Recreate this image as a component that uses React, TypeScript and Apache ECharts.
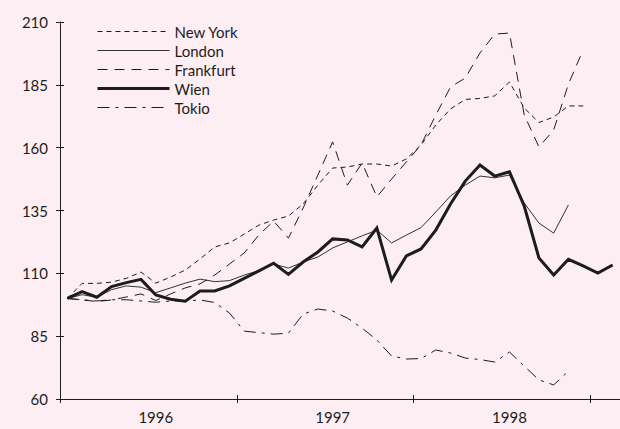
import React, { useEffect, useRef } from "react";
import * as echarts from "echarts";

const months: string[] = [
  "1996-01", "1996-02", "1996-03", "1996-04", "1996-05", "1996-06",
  "1996-07", "1996-08", "1996-09", "1996-10", "1996-11", "1996-12",
  "1997-01", "1997-02", "1997-03", "1997-04", "1997-05", "1997-06",
  "1997-07", "1997-08", "1997-09", "1997-10", "1997-11", "1997-12",
  "1998-01", "1998-02", "1998-03", "1998-04", "1998-05", "1998-06",
  "1998-07", "1998-08", "1998-09", "1998-10", "1998-11", "1998-12",
  "1999-01", "1999-02",
];

const yTicks = { min: 60, max: 210, interval: 25 };

const newYork: number[] = [100, 106, 106, 106.5, 108, 110.5, 106.1, 108.5, 111.3, 115.7, 120.5, 122.1, 125.6, 129.2, 131.2, 132.8, 137.6, 145.1, 151.9, 152.3, 153.5, 153.5, 152.7, 155.5, 161.1, 169, 175.4, 179.2, 179.6, 180.6, 186.1, 175.8, 170, 172.2, 176.6, 176.6];
const london: number[] = [100, 101.5, 100.5, 103.5, 105, 104.5, 102.3, 104.2, 106.1, 107.7, 106.7, 107.1, 109.3, 111.1, 113.7, 112.1, 114.5, 116.5, 120.1, 122.5, 124.9, 127.2, 122.1, 125.2, 128.2, 134.4, 140.8, 145.1, 148.7, 148, 149.1, 138, 130, 126, 137.2];
const frankfurt: number[] = [100, 99.4, 98.8, 99.4, 100.6, 101.8, 99.2, 101.8, 104.2, 105.8, 109.3, 113.7, 118.1, 125.3, 130.8, 124, 136, 149.1, 162.3, 145.1, 153.9, 140.4, 147.5, 154.3, 161.1, 173, 184.1, 187.7, 197.7, 205.2, 205.6, 173, 160.3, 167, 185.3, 198.9];
const wien: number[] = [100, 102.7, 100.5, 104.7, 106.3, 107.6, 101.4, 99.7, 98.9, 103, 103, 105, 108, 111, 114, 109.6, 114.5, 118.5, 123.7, 123.3, 120.5, 128, 107.3, 116.9, 119.7, 127.2, 137.6, 146.7, 153.1, 148.7, 150.4, 136.8, 116.1, 109.3, 115.6, 113, 110.1, 113.3];
const tokio: number[] = [100, 99.5, 99, 99.5, 99.5, 99, 98.5, 99, 99, 99.4, 98.4, 94.2, 87, 86.4, 85.8, 86.2, 93.8, 95.8, 95, 92.2, 88.2, 83.5, 77.1, 75.9, 76.1, 79.5, 78.3, 76.3, 75.7, 74.7, 78.7, 73.1, 67.6, 65.6, 71.1];

const seriesNames = ["New York", "London", "Frankfurt", "Wien", "Tokio"];

const FONT = "Lato, 'Noto Sans', sans-serif";
const INK = "#1c1c1c";

export default function App() {
  const ref = useRef<HTMLDivElement>(null);

  useEffect(() => {
    if (!ref.current) return;
    const chart = echarts.init(ref.current, undefined, { renderer: "svg" });

    const mk = (name: string, data: number[], width: number, type: any) => ({
      name,
      type: "line",
      data,
      xAxisIndex: 0,
      yAxisIndex: 0,
      symbol: "none",
      smooth: false,
      lineStyle: { color: INK, width, type, cap: "butt", join: "miter" },
      itemStyle: { color: INK },
      emphasis: { disabled: true },
    });

    const baseX = {
      type: "category",
      data: months,
      boundaryGap: true,
      gridIndex: 0,
      position: "bottom",
      splitLine: { show: false },
    };
    const baseY = {
      type: "value",
      min: yTicks.min,
      max: yTicks.max,
      interval: yTicks.interval,
      gridIndex: 0,
      position: "left",
      splitLine: { show: false },
    };

    chart.setOption({
      animation: false,
      backgroundColor: "#fdeef3",
      textStyle: { fontFamily: FONT },
      grid: { left: 60, top: 22, bottom: 30, right: -2, containLabel: false },
      legend: {
        orient: "vertical",
        left: 91,
        top: 19,
        itemWidth: 72,
        itemHeight: 14,
        itemGap: 4,
        data: seriesNames,
        textStyle: { fontFamily: FONT, fontSize: 15, color: INK },
        lineStyle: { width: "inherit" },
        itemStyle: { opacity: 0 },
        selectedMode: false,
      },
      xAxis: [
        {
          ...baseX,
          axisLine: { show: true, lineStyle: { color: INK, width: 1 } },
          axisTick: { show: true, length: 4, interval: (i: number) => i % 12 === 0, lineStyle: { color: INK } },
          axisLabel: {
            show: true,
            interval: (i: number) => i % 12 === 6,
            formatter: (v: string) => v.slice(0, 4),
            color: INK,
            fontFamily: FONT,
            fontSize: 15,
            margin: 10,
          },
        },
        {
          ...baseX,
          axisLine: { show: false },
          axisTick: { show: true, inside: true, length: 4, interval: (i: number) => i % 12 === 0, lineStyle: { color: INK } },
          axisLabel: { show: false },
        },
      ],
      yAxis: [
        {
          ...baseY,
          axisLine: { show: true, lineStyle: { color: INK, width: 1 } },
          axisTick: { show: true, length: 4, lineStyle: { color: INK } },
          axisLabel: { color: INK, fontFamily: FONT, fontSize: 15, margin: 12 },
        },
        {
          ...baseY,
          axisLine: { show: false },
          axisTick: { show: true, inside: true, length: 4, lineStyle: { color: INK } },
          axisLabel: { show: false },
        },
      ],
      series: [
        mk("New York", newYork, 1, [5, 4]),
        mk("London", london, 0.9, "solid"),
        mk("Frankfurt", frankfurt, 1, [10, 7]),
        mk("Wien", wien, 3, "solid"),
        mk("Tokio", tokio, 1, [12, 6, 3, 6]),
      ],
    });

    return () => chart.dispose();
  }, []);

  return (
    <div
      ref={ref}
      style={{ position: "fixed", left: 0, top: 0, width: 620, height: 429 }}
    />
  );
}
